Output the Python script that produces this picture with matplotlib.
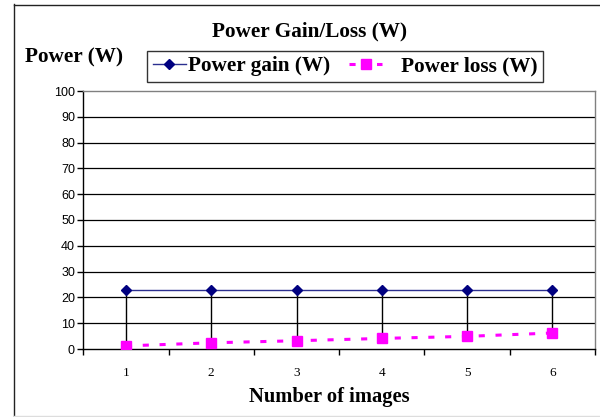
import matplotlib
matplotlib.use("Agg")
import matplotlib.pyplot as plt
from matplotlib.lines import Line2D

categories = [1, 2, 3, 4, 5, 6]
power_gain = [22.8, 22.8, 22.8, 22.8, 22.8, 22.8]
power_loss = [1.2, 2.4, 3.2, 4.1, 4.9, 6.2]
y_ticks = [0, 10, 20, 30, 40, 50, 60, 70, 80, 90, 100]
series_labels = ["Power gain (W)", "Power loss (W)"]

fig = plt.figure(figsize=(6.0, 4.17), dpi=100)
fig.patch.set_facecolor("white")
W, H = 600, 417
ax = fig.add_axes([83.3 / W, (H - 349) / H, (595 - 83.3) / W, (349 - 91) / H])

# outer frame (left & top dark, bottom light)
fig.add_artist(Line2D([13.5 / W, 13.5 / W], [1 - 4 / H, 1 - 416 / H],
                      transform=fig.transFigure, color="#222222", linewidth=1.0))
fig.add_artist(Line2D([13.5 / W, 1.0], [1 - 4.5 / H, 1 - 4.5 / H],
                      transform=fig.transFigure, color="#222222", linewidth=1.0))
fig.add_artist(Line2D([13.5 / W, 1.0], [1 - 416 / H, 1 - 416 / H],
                      transform=fig.transFigure, color="#dddddd", linewidth=1.0))

x = categories
# drop lines
ax.vlines(x, power_loss, power_gain, colors="black", linewidth=1.0, zorder=2)
ax.plot(x, power_gain, color="#2b2f8f", linewidth=1.0, marker="D",
        markersize=5, markerfacecolor="#000080", markeredgecolor="#000080", zorder=3)
ax.plot(x, power_loss, color="#ff00ff", linewidth=2.2, linestyle=(0, (2, 3.5)),
        marker="s", markersize=6.5, markerfacecolor="#ff00ff",
        markeredgecolor="#ff00ff", zorder=3)

ax.set_xlim(0.5, 6.5)
ax.set_ylim(0, 100)
ax.set_yticks(y_ticks)
ax.set_yticklabels([str(v) for v in y_ticks], fontfamily="Liberation Sans", fontsize=9)
ax.set_xticks([0.5, 1.5, 2.5, 3.5, 4.5, 5.5, 6.5])
ax.set_xticklabels([])
ax.set_xticks(categories, minor=True)
ax.set_xticklabels([str(c) for c in categories], minor=True,
                   fontfamily="Liberation Serif", fontsize=9.5)
ax.tick_params(axis="x", which="major", direction="out", length=4, width=1, color="black")
ax.tick_params(axis="x", which="minor", length=0, pad=13)
ax.tick_params(axis="y", direction="out", length=4, width=1, color="black", pad=2)

for v in y_ticks[1:-1]:
    ax.axhline(v, color="black", linewidth=0.9, zorder=1)

ax.spines["left"].set_color("black")
ax.spines["bottom"].set_color("black")
ax.spines["top"].set_color("#808080")
ax.spines["right"].set_color("#808080")
for s in ax.spines.values():
    s.set_linewidth(1.0)

fig.text(309 / W, 1 - 31 / H, "Power Gain/Loss (W)", ha="center", va="center",
         fontfamily="Liberation Serif", fontweight="bold", fontsize=15.3)
fig.text(74 / W, 1 - 57 / H, "Power (W)", ha="center", va="center",
         fontfamily="Liberation Serif", fontweight="bold", fontsize=15.3)
fig.text(329 / W, 1 - 397 / H, "Number of images", ha="center", va="center",
         fontfamily="Liberation Serif", fontweight="bold", fontsize=14.8)

handles = [
    Line2D([0], [0], color="#2b2f8f", linewidth=1.0, marker="D", markersize=5,
           markerfacecolor="#000080", markeredgecolor="#000080"),
    Line2D([0], [0], color="#ff00ff", linewidth=2.2, linestyle=(0, (2, 7)),
           marker="s", markersize=6.5, markerfacecolor="#ff00ff", markeredgecolor="#ff00ff"),
]
leg = fig.legend(handles, [series_labels[0], "   " + series_labels[1]], ncol=2,
                 loc="center", bbox_to_anchor=(345 / W, 1 - 66.5 / H),
                 prop={"family": "Liberation Serif", "weight": "bold", "size": 15.3},
                 frameon=True, fancybox=False, handlelength=1.55, handletextpad=0.12,
                 columnspacing=0.9, borderpad=0.25, borderaxespad=0)
leg.get_frame().set_edgecolor("black")
leg.get_frame().set_linewidth(1.0)

fig.savefig("out.png", dpi=100, facecolor="white")
